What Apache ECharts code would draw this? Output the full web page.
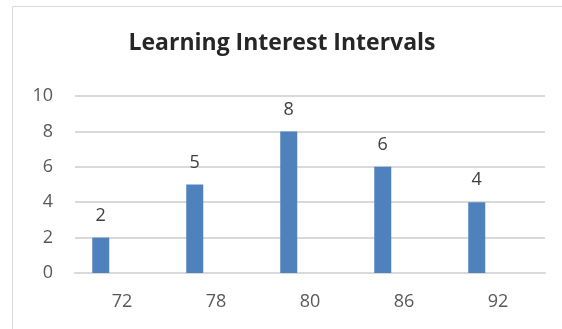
<!DOCTYPE html>
<html>
<head>
<meta charset="utf-8">
<style>
html,body{margin:0;padding:0;background:#fff;}
#chart{width:562px;height:329px;}
</style>
<script src="https://cdn.jsdelivr.net/npm/echarts@6/dist/echarts.min.js"></script>
</head>
<body>
<div id="chart"></div>
<script>
const titleText = "Learning Interest Intervals";
const categories = ["72", "78", "80", "86", "92"];
const values = [2, 5, 8, 6, 4];
const emptySeries = [null, null, null, null, null];
const yMin = 0, yMax = 10, yStep = 2;

const chart = echarts.init(document.getElementById('chart'), null, {renderer: 'canvas'});
const font = '"Open Sans", "Liberation Sans", sans-serif';
chart.setOption({
  animation: false,
  backgroundColor: '#ffffff',
  graphic: [{
    type: 'rect',
    shape: {x: 12.5, y: 6.5, width: 600, height: 400},
    style: {fill: 'none', stroke: '#d9d9d9', lineWidth: 1},
    silent: true
  }],
  title: {
    text: titleText,
    left: 277,
    textAlign: 'center',
    top: 27,
    textStyle: {fontFamily: font, fontWeight: 'bold', fontSize: 23, color: '#262626'}
  },
  grid: {left: 75, right: 17, top: 96, bottom: 56, containLabel: false},
  xAxis: {
    type: 'category',
    data: categories,
    axisLine: {show: true, lineStyle: {color: '#d9d9d9', width: 2}},
    axisTick: {show: false},
    axisLabel: {fontFamily: font, fontSize: 18, color: '#595959', margin: 20}
  },
  yAxis: {
    type: 'value',
    min: yMin, max: yMax, interval: yStep,
    axisLine: {show: false},
    axisTick: {show: false},
    splitLine: {lineStyle: {color: '#d9d9d9', width: 2}},
    axisLabel: {fontFamily: font, fontSize: 18, color: '#595959', margin: 22}
  },
  series: [{
    type: 'bar',
    data: values,
    barWidth: 17,
    barGap: '150%',
    itemStyle: {color: '#4f81bd'},
    label: {show: true, position: 'top', distance: 13, fontFamily: font, fontSize: 18, color: '#404040'}
  }, {
    type: 'bar',
    data: emptySeries,
    barWidth: 17,
    itemStyle: {color: '#c0504d'}
  }]
});
</script>
</body>
</html>
